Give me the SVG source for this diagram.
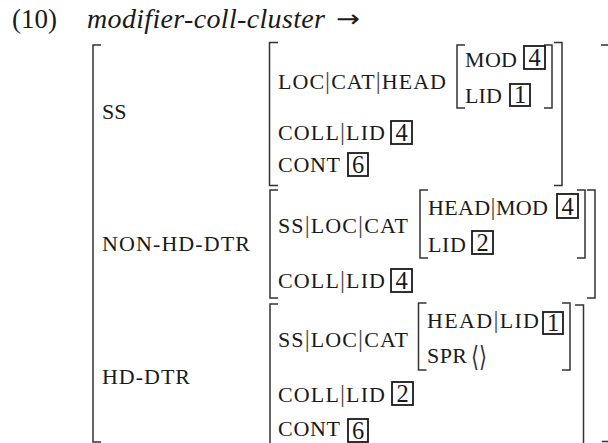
<svg xmlns="http://www.w3.org/2000/svg" width="608" height="443" viewBox="0 0 608 443">
<style>
text { font-family: "Liberation Serif", "Times New Roman", serif; fill: #1a1a1a; }
.t { font-size: 27px; }
.ti { font-size: 28px; font-style: italic; }
.ar { font-family: "DejaVu Sans", sans-serif; font-size: 24px; }
.sc { font-size: 22px; }
.bar { font-size: 25px; fill: #444; }
.ang { font-family: "DejaVu Sans", sans-serif; font-size: 28px; fill: #333; }
.num { font-size: 24.5px; text-anchor: middle; }
.box { fill: none; stroke: #1a1a1a; stroke-width: 1.8; }
.br { fill: none; stroke: #333; stroke-width: 1.5; }
</style>
<g id="title">
<text class="t" x="12" y="28">(10)</text>
<text class="ti" x="87" y="28" textLength="238" lengthAdjust="spacing">modifier-coll-cluster</text>
<text class="ar" x="336" y="27" textLength="24" lengthAdjust="spacingAndGlyphs">→</text>
</g>
<g id="brackets">
<path class="br" d="M101,45 H93 V442 H101"/>
<path class="br" d="M601,45 H608 M602,441.5 H608"/>
<path class="br" d="M278,42.5 H269.5 V185.5 H278"/>
<path class="br" d="M554,42.5 H562 V185.5 H554"/>
<path class="br" d="M465,45 H457 V108 H465"/>
<path class="br" d="M544,45 H552 V108 H544"/>
<path class="br" d="M278,190 H270 V298 H278"/>
<path class="br" d="M587,190 H595 V298 H587"/>
<path class="br" d="M428,190 H420 V258 H428"/>
<path class="br" d="M577,190 H585 V258 H577"/>
<path class="br" d="M278,304 H270 V443"/>
<path class="br" d="M575,305 H583.5 V443"/>
<path class="br" d="M426.5,303 H418.5 V370 H426.5"/>
<path class="br" d="M562,303 H570 V370 H562"/>
</g>
<g id="ss">
<text class="sc" x="102" y="119" textLength="24.5">SS</text>
<text class="sc" x="278" y="89" textLength="168">LOC<tspan class="bar">|</tspan>CAT<tspan class="bar">|</tspan>HEAD</text>
<text class="sc" x="465" y="66.5" textLength="52">MOD</text>
<rect class="box" x="524" y="46" width="21" height="23"/>
<text class="num" x="534.5" y="65.5">4</text>
<text class="sc" x="465" y="103" textLength="37">LID</text>
<rect class="box" x="510" y="84" width="20" height="22"/>
<text class="num" x="520" y="103">1</text>
<text class="sc" x="278" y="140" textLength="107">COLL<tspan class="bar">|</tspan>LID</text>
<rect class="box" x="391" y="121" width="21" height="23"/>
<text class="num" x="401.5" y="140.5">4</text>
<text class="sc" x="278" y="172" textLength="62">CONT</text>
<rect class="box" x="348" y="153" width="20" height="23"/>
<text class="num" x="358" y="172.5">6</text>
</g>
<g id="non-hd-dtr">
<text class="sc" x="102" y="251" textLength="148">NON-HD-DTR</text>
<text class="sc" x="278" y="233" textLength="130">SS<tspan class="bar">|</tspan>LOC<tspan class="bar">|</tspan>CAT</text>
<text class="sc" x="428" y="215" textLength="120">HEAD<tspan class="bar">|</tspan>MOD</text>
<rect class="box" x="557" y="194" width="21" height="24"/>
<text class="num" x="567.5" y="214.5">4</text>
<text class="sc" x="428" y="251.5" textLength="38">LID</text>
<rect class="box" x="472" y="231" width="21" height="23"/>
<text class="num" x="482.5" y="250.5">2</text>
<text class="sc" x="278" y="288" textLength="107">COLL<tspan class="bar">|</tspan>LID</text>
<rect class="box" x="391" y="269" width="21" height="23"/>
<text class="num" x="401.5" y="288.5">4</text>
</g>
<g id="hd-dtr">
<text class="sc" x="102" y="384" textLength="88">HD-DTR</text>
<text class="sc" x="278" y="347" textLength="130">SS<tspan class="bar">|</tspan>LOC<tspan class="bar">|</tspan>CAT</text>
<text class="sc" x="427" y="328" textLength="112">HEAD<tspan class="bar">|</tspan>LID</text>
<rect class="box" x="543" y="312" width="20" height="22"/>
<text class="num" x="553" y="331">1</text>
<text class="sc" x="427" y="363" textLength="40">SPR</text>
<text class="ang" x="471" y="366" textLength="16" lengthAdjust="spacingAndGlyphs">⟨⟩</text>
<text class="sc" x="278" y="402" textLength="107">COLL<tspan class="bar">|</tspan>LID</text>
<rect class="box" x="392" y="382" width="21" height="23"/>
<text class="num" x="402.5" y="401.5">2</text>
<text class="sc" x="278" y="436" textLength="62">CONT</text>
<rect class="box" x="348" y="419" width="20" height="23"/>
<text class="num" x="358" y="438.5">6</text>
</g>
</svg>
